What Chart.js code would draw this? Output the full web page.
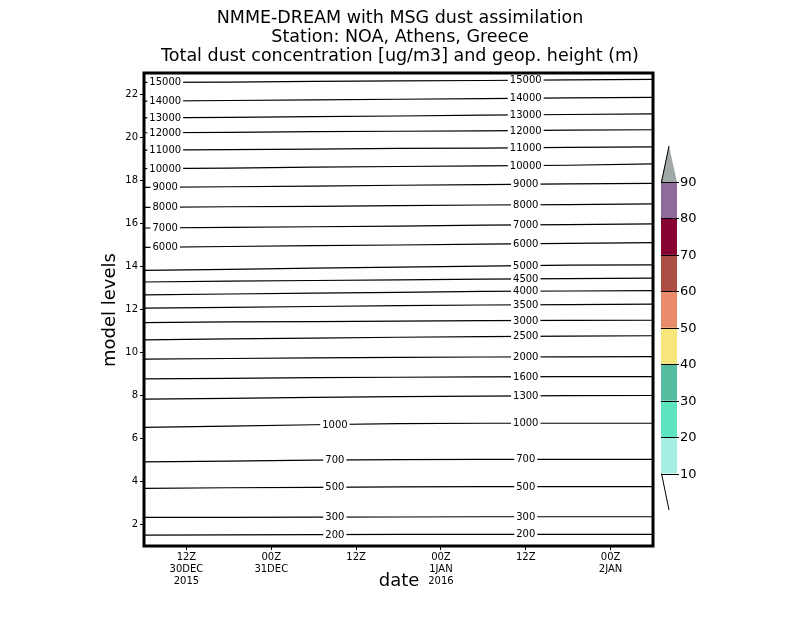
<!DOCTYPE html>
<html><head><meta charset="utf-8">
<script src="https://cdn.jsdelivr.net/npm/chart.js@4/dist/chart.umd.min.js"></script>
<style>html,body{margin:0;padding:0;background:#fff}#wrap{width:800px;height:618px;position:relative}</style>
</head><body><div id="wrap"><canvas id="c" width="800" height="618"></canvas></div>
<script>
// ---- data ----
const hours = [0, 12, 24, 36, 48, 60, 72];            // hours since 30DEC2015 06Z
const tickHours = [6, 18, 30, 42, 54, 66];
const tickLabels = [["12Z","30DEC","2015"],["00Z","31DEC"],["12Z"],["00Z","1JAN","2016"],["12Z"],["00Z","2JAN"]];
const yTicks = [2, 4, 6, 8, 10, 12, 14, 16, 18, 20, 22];

// model level of each geopotential height contour at each time
const z15000 = [22.56, 22.58, 22.61, 22.63, 22.65, 22.68, 22.70];
const z14000 = [21.69, 21.72, 21.75, 21.78, 21.81, 21.84, 21.87];
const z13000 = [20.91, 20.94, 20.97, 21.00, 21.04, 21.07, 21.10];
const z12000 = [20.22, 20.24, 20.27, 20.29, 20.31, 20.34, 20.36];
const z11000 = [19.41, 19.44, 19.46, 19.49, 19.51, 19.54, 19.56];
const z10000 = [18.55, 18.58, 18.62, 18.65, 18.68, 18.71, 18.77];
const z9000  = [17.68, 17.71, 17.74, 17.78, 17.81, 17.84, 17.87];
const z8000  = [16.75, 16.78, 16.80, 16.83, 16.86, 16.88, 16.91];
const z7000  = [15.79, 15.82, 15.85, 15.88, 15.92, 15.95, 15.98];
const z6000  = [14.89, 14.93, 14.97, 15.00, 15.04, 15.08, 15.11];
const z5000  = [13.82, 13.87, 13.92, 13.97, 14.02, 14.06, 14.08];
const z4500  = [13.28, 13.32, 13.35, 13.38, 13.41, 13.44, 13.46];
const z4000  = [12.68, 12.72, 12.76, 12.80, 12.84, 12.86, 12.88];
const z3500  = [12.06, 12.10, 12.14, 12.18, 12.21, 12.23, 12.25];
const z3000  = [11.39, 11.42, 11.44, 11.46, 11.48, 11.49, 11.50];
const z2500  = [10.59, 10.63, 10.67, 10.71, 10.74, 10.76, 10.78];
const z2000  = [9.69, 9.72, 9.75, 9.77, 9.79, 9.80, 9.81];
const z1600  = [8.77, 8.80, 8.83, 8.85, 8.87, 8.88, 8.88];
const z1300  = [7.83, 7.87, 7.91, 7.95, 7.97, 7.99, 8.00];
const z1000  = [6.52, 6.58, 6.64, 6.69, 6.71, 6.71, 6.71];
const z700   = [4.91, 4.95, 4.99, 5.02, 5.03, 5.03, 5.03];
const z500   = [3.68, 3.71, 3.73, 3.75, 3.76, 3.76, 3.76];
const z300   = [2.33, 2.33, 2.34, 2.35, 2.36, 2.36, 2.36];
const z200   = [1.51, 1.52, 1.53, 1.54, 1.54, 1.54, 1.54];

const heights = [15000,14000,13000,12000,11000,10000,9000,8000,7000,6000,5000,4500,4000,3500,3000,2500,2000,1600,1300,1000,700,500,300,200];
const heightLevels = [z15000,z14000,z13000,z12000,z11000,z10000,z9000,z8000,z7000,z6000,z5000,z4500,z4000,z3500,z3000,z2500,z2000,z1600,z1300,z1000,z700,z500,z300,z200];

const leftLabelHeights = [15000,14000,13000,12000,11000,10000,9000,8000,7000,6000];
const midLabelHeights = [1000,700,500,300,200];
const rightLabelHeights = heights;
const leftLabelHour = 3, midLabelHour = 27, rightLabelHour = 54;

const cbLevels = [10,20,30,40,50,60,70,80,90];
const cbColors = ['#a6eee3','#5ee4bf','#55bc9f','#f6e67c','#e98c6b','#ac4e44','#870132','#8f6b9d'];
const cbOverColor = '#a1a9a8';

const titleLines = ["NMME-DREAM with MSG dust assimilation","Station: NOA, Athens, Greece","Total dust concentration [ug/m3] and geop. height (m)"];

// ---- chart ----
const FONT = '"DejaVu Sans", sans-serif';

const datasets = heights.map((h, i) => ({
  label: String(h),
  data: hours.map((t, k) => ({x: t, y: heightLevels[i][k]})),
  borderColor: '#000', borderWidth: 1.2, pointRadius: 0, tension: 0, fill: false
}));

function levelAt(i, hr) {
  const arr = heightLevels[i];
  for (let k = 0; k < hours.length - 1; k++) {
    if (hr >= hours[k] && hr <= hours[k+1]) {
      const f = (hr - hours[k]) / (hours[k+1] - hours[k]);
      return arr[k] + f * (arr[k+1] - arr[k]);
    }
  }
  return arr[arr.length-1];
}

const decor = {
  id: 'decor',
  afterDatasetsDraw(chart) {
    const ctx = chart.ctx, xs = chart.scales.x, ys = chart.scales.y;
    ctx.save();
    ctx.font = '10px ' + FONT;
    ctx.textAlign = 'center'; ctx.textBaseline = 'middle';
    const put = (list, hr) => list.forEach(h => {
      const i = heights.indexOf(h);
      const px = xs.getPixelForValue(hr), py = ys.getPixelForValue(levelAt(i, hr));
      const txt = String(h), w = ctx.measureText(txt).width;
      ctx.fillStyle = '#fff';
      ctx.fillRect(px - w/2 - 2, py - 4, w + 4, 8);
      ctx.fillStyle = '#000';
      ctx.fillText(txt, px, py + 0.5);
    });
    put(leftLabelHeights, leftLabelHour);
    put(midLabelHeights, midLabelHour);
    put(rightLabelHeights, rightLabelHour);
    ctx.restore();
  },
  afterDraw(chart) {
    const ctx = chart.ctx, a = chart.chartArea;
    ctx.save();
    // frame
    ctx.strokeStyle = '#000'; ctx.lineWidth = 3;
    ctx.strokeRect(a.left, a.top, a.right - a.left, a.bottom - a.top);
    // titles
    ctx.fillStyle = '#000'; ctx.textAlign = 'center'; ctx.textBaseline = 'middle';
    ctx.font = '17.5px ' + FONT;
    titleLines.forEach((t, i) => ctx.fillText(t, 400, 18 + i * 19));
    ctx.font = '18px ' + FONT;
    ctx.fillText('date', 399, 581);
    ctx.save(); ctx.translate(110, 310); ctx.rotate(-Math.PI/2);
    ctx.fillText('model levels', 0, 0); ctx.restore();
    // colorbar
    const cx = 661, cw = 16, yBot = 473.5, yTop = 182;
    const step = (yBot - yTop) / (cbLevels.length - 1);
    const yOf = v => yBot - (v - cbLevels[0]) / 10 * step;
    for (let k = 0; k < cbColors.length; k++) {
      ctx.fillStyle = cbColors[k];
      ctx.fillRect(cx, yOf(cbLevels[k+1]), cw, step);
    }
    ctx.fillStyle = cbOverColor;
    ctx.beginPath(); ctx.moveTo(cx, yTop); ctx.lineTo(cx + cw/2, 146); ctx.lineTo(cx + cw, yTop); ctx.closePath(); ctx.fill();
    ctx.strokeStyle = '#000'; ctx.lineWidth = 1;
    ctx.beginPath(); ctx.moveTo(cx + 0.5, yTop); ctx.lineTo(cx + cw/2, 146); ctx.stroke();
    ctx.beginPath(); ctx.moveTo(cx + 0.5, yBot); ctx.lineTo(cx + cw/2, 510); ctx.stroke();
    ctx.font = '13px ' + FONT; ctx.textAlign = 'left'; ctx.fillStyle = '#000';
    cbLevels.forEach(v => {
      const y = Math.round(yOf(v)) + 0.5;
      ctx.beginPath(); ctx.moveTo(cx, y); ctx.lineTo(cx + cw + 2, y); ctx.stroke();
      ctx.fillText(String(v), cx + cw + 3, y);
    });
    ctx.restore();
  }
};

new Chart(document.getElementById('c'), {
  type: 'line',
  data: { datasets },
  options: {
    responsive: false, animation: false, devicePixelRatio: 1,
    layout: { padding: { left: 0, right: 147, top: 73, bottom: 0 } },
    plugins: { legend: { display: false }, tooltip: { enabled: false }, title: { display: false } },
    scales: {
      x: {
        type: 'linear', min: 0, max: 72,
        afterBuildTicks: s => { s.ticks = tickHours.map(v => ({ value: v })); },
        afterFit: s => { s.height = 72; },
        ticks: { autoSkip: false, maxRotation: 0, padding: 1, color: '#000',
                 font: { family: FONT, size: 10 },
                 callback: v => tickLabels[tickHours.indexOf(v)] },
        grid: { drawOnChartArea: false, drawTicks: true, tickLength: 4, color: '#000' },
        border: { display: false }
      },
      y: {
        type: 'linear', min: 1, max: 23,
        afterBuildTicks: s => { s.ticks = yTicks.map(v => ({ value: v })); },
        afterFit: s => { s.width = 144; },
        ticks: { padding: 2, color: '#000', font: { family: FONT, size: 10 } },
        grid: { drawOnChartArea: false, drawTicks: true, tickLength: 4, color: '#000' },
        border: { display: false }
      }
    }
  },
  plugins: [decor]
});
</script></body></html>
